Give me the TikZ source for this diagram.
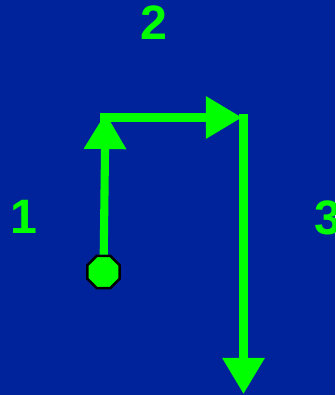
\documentclass[tikz,border=0pt]{standalone}
\usepackage{fontspec}
\setmainfont{Liberation Sans}
\usetikzlibrary{arrows.meta,shapes.geometric}
\definecolor{bg}{HTML}{00229B}
\definecolor{lime}{HTML}{00FF00}

\begin{document}
\begin{tikzpicture}[
  x=0.02cm, y=-0.02cm,
  font=\fontsize{27.5}{27.5}\selectfont\bfseries,
  every node/.append style={text=lime},
  steplabel/.style={inner sep=0pt, anchor=base},
  leg/.style={draw=lime, line width=4.6pt, -{Triangle[length=20.5pt, width=23pt]}},
  startdot/.style={regular polygon, regular polygon sides=8, fill=lime, draw=black,
    line width=1.4pt, minimum size=0.7cm, inner sep=0pt},
]
% --- background ---
\fill[bg] (0,0) rectangle (335,395);
\clip (0,0) rectangle (335,395);
\useasboundingbox (0,0) rectangle (335,395);
% --- turn points ---
\coordinate (top1) at (105.5,113);
\coordinate (from2) at (100,117.5);
\coordinate (top2) at (242,117.5);
\coordinate (from3) at (243.5,113.5);
\coordinate (end3) at (243.5,394);
% --- path legs ---
\node[startdot] (start) at (103.5,272) {};
\draw[leg] (start) -- (top1);
\draw[leg] (from2) -- (top2);
\draw[leg] (from3) -- (end3);
% leg numbers
\node[steplabel] (lab1) at (24,233) {1};
\node[steplabel] (lab2) at (154,40) {2};
\node[steplabel] (lab3) at (328,234) {3};
\end{tikzpicture}
\end{document}
